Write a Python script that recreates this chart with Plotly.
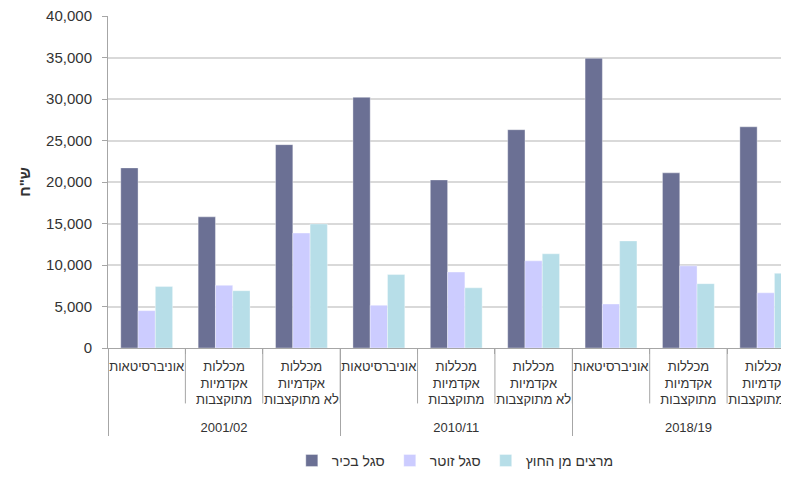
import plotly.graph_objects as go

groups = ["2001/02", "2010/11", "2018/19"]
types = ["אוניברסיטאות", "מכללות<br>אקדמיות<br>מתוקצבות", "מכללות<br>אקדמיות<br>לא מתוקצבות"]

senior = [21700, 15800, 24500, 30200, 20250, 26300, 34900, 21100, 26650]
junior = [4500, 7550, 13850, 5150, 9150, 10500, 5300, 9900, 6650]
external = [7400, 6900, 14950, 8850, 7250, 11350, 12900, 7750, 9000]

series_names = ["סגל בכיר", "סגל זוטר", "מרצים מן החוץ"]
colors = ["#6B7094", "#CCCCFF", "#B7DEE8"]

x_groups = [g for g in groups for _ in types]
# a trailing blank line gives the group row the same spacing as the reference
x_types = [t + "<br> " for _ in groups for t in types]

fig = go.Figure()
for name, vals, c in zip(series_names, [senior, junior, external], colors):
    fig.add_trace(go.Bar(
        x=[x_groups, x_types], y=vals, name=name,
        marker=dict(color=c, line=dict(width=0.6, color="rgba(255,255,255,0.6)")),
    ))

font_family = "Liberation Sans, Arial, sans-serif"
fig.update_layout(
    width=781, height=489,
    margin=dict(l=100, r=0, t=8, b=149, autoexpand=False),
    barmode="group", bargap=0.33, bargroupgap=0,
    plot_bgcolor="white", paper_bgcolor="white",
    font=dict(family=font_family, color="#333333", size=13),
    showlegend=True,
    legend=dict(orientation="h", x=0.51, xanchor="center", y=-0.34, yanchor="middle",
                font=dict(size=14, color="#333333"), traceorder="normal"),
    yaxis=dict(range=[0, 40000], tick0=0, dtick=5000, tickformat=",d",
               showgrid=True, gridcolor="#D9D9D9", gridwidth=1.5,
               showline=True, linecolor="#A6A6A6", linewidth=1,
               ticks="outside", ticklen=5, tickcolor="#A6A6A6",
               ticklabelstandoff=7, ticklabeloverflow="allow",
               tickfont=dict(size=15, color="#333333"),
               title=dict(text="<b>ש\"ח</b>", font=dict(size=15, color="#333333"), standoff=11),
               zeroline=False, automargin=False),
    xaxis=dict(type="multicategory", range=[-0.5, 8.3], tickangle=0,
               showline=True, linecolor="#A6A6A6", linewidth=1,
               ticks="outside", ticklen=5, tickcolor="#A6A6A6",
               ticklabelstandoff=6,
               showdividers=True, dividercolor="#A6A6A6", dividerwidth=1,
               tickfont=dict(size=13, color="#333333"), ticklabeloverflow="allow",
               showgrid=False, automargin=False),
)

# category separators (between institution types) through the first label row
for i in range(9):
    fig.add_shape(type="line", xref="x", yref="paper", x0=i + 0.5, x1=i + 0.5,
                  y0=0, y1=-0.167, line=dict(color="#A6A6A6", width=1))

fig.write_html("out.html")
